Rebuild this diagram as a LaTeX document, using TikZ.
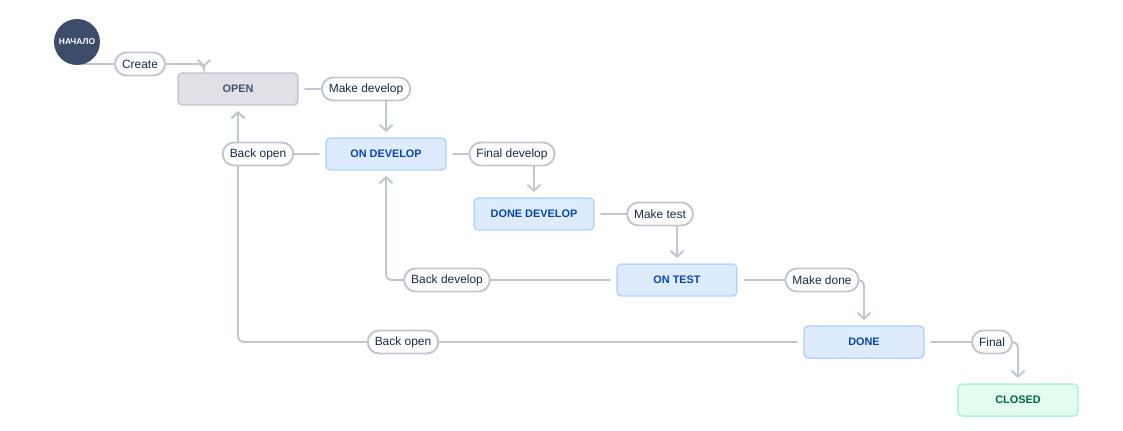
\documentclass[tikz,border=0pt]{standalone}
\usepackage{fontspec}
\setmainfont{Liberation Sans}
\usetikzlibrary{arrows.meta,positioning,backgrounds}
\definecolor{linegray}{HTML}{C1C7D0}
\definecolor{pilltext}{HTML}{172B4D}
\definecolor{bluefill}{HTML}{DEEBFF}
\definecolor{blueline}{HTML}{B3D4FF}
\definecolor{bluetext}{HTML}{0747A6}
\definecolor{grayfill}{HTML}{DFE1E6}
\definecolor{graytext}{HTML}{42526E}
\definecolor{greenfill}{HTML}{E3FCEF}
\definecolor{greenline}{HTML}{ABF5D1}
\definecolor{greentext}{HTML}{006644}
\definecolor{startfill}{HTML}{3E4C6C}

\begin{document}
\begin{tikzpicture}[x=0.02cm, y=-0.02cm]
	\tikzstyle{every node}=[font=\fontsize{6.8}{8}\selectfont]
	\tikzstyle{status}=[draw, rounded corners=2.5pt, line width=0.85pt, minimum width=2.4cm, minimum height=0.64cm, font=\fontsize{6.2}{7}\selectfont\bfseries]
	\tikzstyle{bluest}=[status, fill=bluefill, draw=blueline, text=bluetext]
	\tikzstyle{grayst}=[status, fill=grayfill, draw=linegray, text=graytext]
	\tikzstyle{greenst}=[status, fill=greenfill, draw=greenline, text=greentext]
	\tikzstyle{pill}=[draw=linegray, fill=white, line width=1.1pt, rounded corners=6.5pt, minimum height=0.46cm, inner xsep=4pt, text=pilltext]
	\tikzstyle{flow}=[draw=linegray, line width=1.1pt, rounded corners=3pt, shorten <=3.4pt, shorten >=3pt, -{Straight Barb[length=3.4pt,width=7.4pt]}]
	\useasboundingbox (0,0) rectangle (1123,430);

	% states
	\node [circle, fill=startfill, text=white, minimum size=0.92cm, inner sep=0pt, font=\fontsize{4.8}{5}\selectfont\bfseries] (start) at (77,42) {НАЧАЛО};
	\node [grayst] (open) at (238,89) {OPEN};
	\node [bluest] (ondev) at (386,154) {ON DEVELOP};
	\node [bluest] (donedev) at (534,214) {DONE DEVELOP};
	\node [bluest] (ontest) at (677,280) {ON TEST};
	\node [bluest] (done) at (864,342) {DONE};
	\node [greenst] (closed) at (1018,400) {CLOSED};

	% transitions
	\coordinate (cr) at (204,64);
	\begin{scope}[on background layer]
		\draw [flow, shorten <=0pt] (start.center) |- (cr) -- (cr |- open.north);
	\end{scope}
	\draw [flow] (open.east) -| (ondev.north);
	\draw [flow] (ondev.east) -| (donedev.north);
	\draw [flow] (donedev.east) -| (ontest.north);
	\draw [flow] (ontest.east) -| (done.north);
	\draw [flow] (done.east) -| (closed.north);
	\draw [flow] (ondev.west) -| (open.south);
	\draw [flow] (ontest.west) -| (ondev.south);
	\draw [flow] (done.west) -| (open.south);

	% transition names
	\node [pill] (create) at (140,64) {Create};
	\node [pill] (makedev) at (366,89) {Make develop};
	\node [pill] (backopenA) at (258,154) {Back open};
	\node [pill] (finaldev) at (512,154) {Final develop};
	\node [pill] (maketest) at (660,214) {Make test};
	\node [pill] (backdev) at (447,280) {Back develop};
	\node [pill] (makedone) at (822,280) {Make done};
	\node [pill] (backopenB) at (403,342) {Back open};
	\node [pill] (final) at (992,342) {Final};
\end{tikzpicture}
\end{document}
